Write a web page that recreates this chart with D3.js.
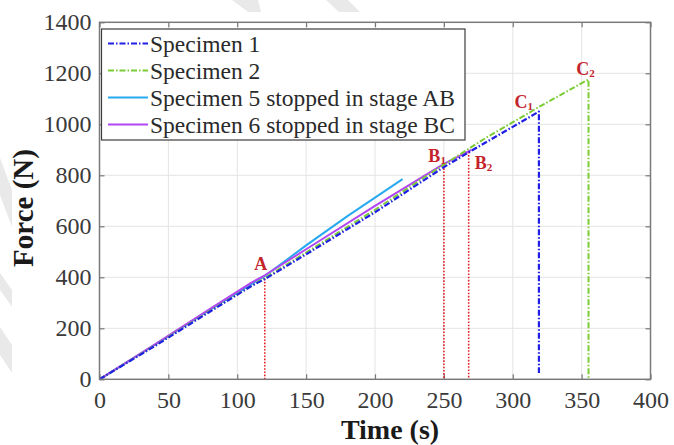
<!DOCTYPE html>
<html>
<head>
<meta charset="utf-8">
<script src="https://cdn.jsdelivr.net/npm/d3@7"></script>
<style>
  html, body { margin: 0; padding: 0; background: #fff; }
  svg { display: block; }
  svg text { font-family: "Liberation Serif", "Times New Roman", "DejaVu Serif", serif; }
</style>
</head>
<body>
<svg id="chart" width="674" height="445"></svg>
<script>
// Axis ticks
const xTicks = [0, 50, 100, 150, 200, 250, 300, 350, 400];
const yTicks = [0, 200, 400, 600, 800, 1000, 1200, 1400];

// Force–time records (s, N)
const spec1Time  = [0, 40, 80, 110, 120, 150, 200, 250, 268, 300, 319, 319];
const spec1Force = [0, 130, 265, 365, 393, 490, 655, 832, 890, 990, 1050, 25];

const spec2Time  = [0, 40, 80, 120, 150, 200, 250, 280, 319, 355, 355];
const spec2Force = [0, 132, 268, 398, 497, 665, 842, 945, 1068, 1176, 0];

const spec5Time  = [0, 40, 80, 120, 150, 180, 220];
const spec5Force = [0, 135, 272, 405, 525, 640, 785];

const spec6Time  = [0, 40, 80, 110, 120, 150, 200, 250, 270];
const spec6Force = [0, 136, 275, 378, 408, 510, 680, 845, 900];

const seriesNames = [
  "Specimen 1",
  "Specimen 2",
  "Specimen 5 stopped in stage AB",
  "Specimen 6 stopped in stage BC"
];

// Stage points
const pointNames = ["A", "B", "B", "C", "C"];
const pointSubs  = ["", "1", "2", "1", "2"];
const pointTime  = [120, 250, 268, 319, 355];
const pointForce = [395, 840, 892, 1050, 1176];

const svg = d3.select("#chart");
const L = 99.5, R = 650.5, T = 22.3, B = 379.3;

const x = d3.scaleLinear().domain([0, 400]).range([L, R]);
const y = d3.scaleLinear().domain([0, 1400]).range([B, T]);

// faint diagonal background stripes
const stripes = [
  [[232, 0], [258, 0], [261, 12], [248, 12]],
  [[326, 0], [348, 0], [360, 12], [339, 12]],
  [[0, 158], [0, 195], [12, 227], [12, 190]],
  [[0, 273], [0, 290], [12, 307], [12, 290]],
  [[0, 327], [0, 355], [12, 373], [12, 345]]
];
svg.append("g").selectAll("path").data(stripes).join("path")
  .attr("d", d => d3.line()(d) + "Z")
  .attr("fill", "#e9e9e9");

// plot background
svg.append("rect").attr("x", L).attr("y", T)
  .attr("width", R - L).attr("height", B - T).attr("fill", "#fff");

// grid
const grid = svg.append("g").attr("stroke", "#e4e4e4").attr("stroke-width", 1);
grid.selectAll(".gx").data(xTicks.slice(1, -1)).join("line")
  .attr("x1", d => x(d)).attr("x2", d => x(d)).attr("y1", T).attr("y2", B);
grid.selectAll(".gy").data(yTicks.slice(1, -1)).join("line")
  .attr("y1", d => y(d)).attr("y2", d => y(d)).attr("x1", L).attr("x2", R);

// axes
function styleAxis(g, showText) {
  g.attr("font-family", null).attr("font-size", null);
  g.select(".domain").remove();
  g.selectAll(".tick line").attr("stroke", "#777").attr("stroke-width", 1.2);
  g.selectAll(".tick text")
    .attr("fill", "#3a3a3a")
    .style("font-size", "24px")
    .style("display", showText ? null : "none");
}
svg.append("g").attr("transform", `translate(0,${B})`)
  .call(d3.axisBottom(x).tickValues(xTicks).tickFormat(d3.format("d")).tickSize(-5).tickPadding(12))
  .call(g => styleAxis(g, true));
svg.append("g").attr("transform", `translate(0,${T})`)
  .call(d3.axisTop(x).tickValues(xTicks).tickSize(-5))
  .call(g => styleAxis(g, false));
svg.append("g").attr("transform", `translate(${L},0)`)
  .call(d3.axisLeft(y).tickValues(yTicks).tickFormat(d3.format("d")).tickSize(-5).tickPadding(8))
  .call(g => styleAxis(g, true));
svg.append("g").attr("transform", `translate(${R},0)`)
  .call(d3.axisRight(y).tickValues(yTicks).tickSize(-5))
  .call(g => styleAxis(g, false));

// red dotted stage markers
const red = "#e0262c";
svg.append("g").selectAll("line").data(pointTime.slice(0, 3)).join("line")
  .attr("x1", d => x(d)).attr("x2", d => x(d))
  .attr("y1", (d, i) => y(pointForce[i])).attr("y2", y(0))
  .attr("stroke", red).attr("stroke-width", 1.6)
  .attr("stroke-dasharray", "1.6,1.6");

// series
const series = [
  { t: spec5Time, f: spec5Force, color: "#27a9f0", dash: null, w: 2 },
  { t: spec6Time, f: spec6Force, color: "#b246f2", dash: null, w: 2 },
  { t: spec2Time, f: spec2Force, color: "#7bcc35", dash: "6,2,1.5,2", w: 2 },
  { t: spec1Time, f: spec1Force, color: "#1f1fe6", dash: "6,2,1.5,2", w: 2.2 }
];
const line = d3.line().x(d => x(d[0])).y(d => y(d[1]));
svg.append("g").selectAll("path").data(series).join("path")
  .attr("d", s => line(s.t.map((t, i) => [t, s.f[i]])))
  .attr("fill", "none")
  .attr("stroke", s => s.color)
  .attr("stroke-width", s => s.w)
  .attr("stroke-dasharray", s => s.dash)
  .attr("stroke-linejoin", "round");

// border
svg.append("rect").attr("x", L).attr("y", T)
  .attr("width", R - L).attr("height", B - T)
  .attr("fill", "none").attr("stroke", "#7a7a7a").attr("stroke-width", 1.5);

// stage labels
const labelOffsets = [[-4, -9, "middle"], [2, -3, "end"], [6, 17, "start"], [-6, -4, "end"], [-3, -4, "middle"]];
const labels = svg.append("g").attr("fill", "#c3242c");
pointNames.forEach((n, i) => {
  const o = labelOffsets[i];
  const t = labels.append("text")
    .attr("x", x(pointTime[i]) + o[0])
    .attr("y", y(pointForce[i]) + o[1])
    .attr("text-anchor", o[2])
    .style("font-weight", "bold").style("font-size", "18px");
  t.append("tspan").text(n);
  if (pointSubs[i]) t.append("tspan").style("font-size", "11px").attr("dy", 2).text(pointSubs[i]);
});

// legend
const lg = svg.append("g");
lg.append("rect").attr("x", 101.5).attr("y", 29).attr("width", 363.5).attr("height", 111)
  .attr("fill", "#fff").attr("stroke", "#3c3c3c").attr("stroke-width", 1.2);
const legendOrder = [3, 2, 0, 1];
seriesNames.forEach((name, i) => {
  const s = series[legendOrder[i]];
  const yy = 43.5 + i * 27;
  lg.append("line").attr("x1", 108).attr("x2", 148).attr("y1", yy).attr("y2", yy)
    .attr("stroke", s.color).attr("stroke-width", 2).attr("stroke-dasharray", s.dash);
  lg.append("text").attr("x", 150).attr("y", yy + 8.5)
    .style("font-size", "23.5px").attr("fill", "#2a2a2a")
    .text(name);
});

// axis titles
svg.append("text").attr("x", 390).attr("y", 438.5)
  .attr("text-anchor", "middle")
  .style("font-weight", "bold").style("font-size", "28px").attr("fill", "#1a1a1a")
  .text("Time (s)");
svg.append("text").attr("transform", "translate(33,208) rotate(-90)")
  .attr("text-anchor", "middle")
  .style("font-weight", "bold").style("font-size", "29px").attr("fill", "#1a1a1a")
  .text("Force (N)");
</script>
</body>
</html>
